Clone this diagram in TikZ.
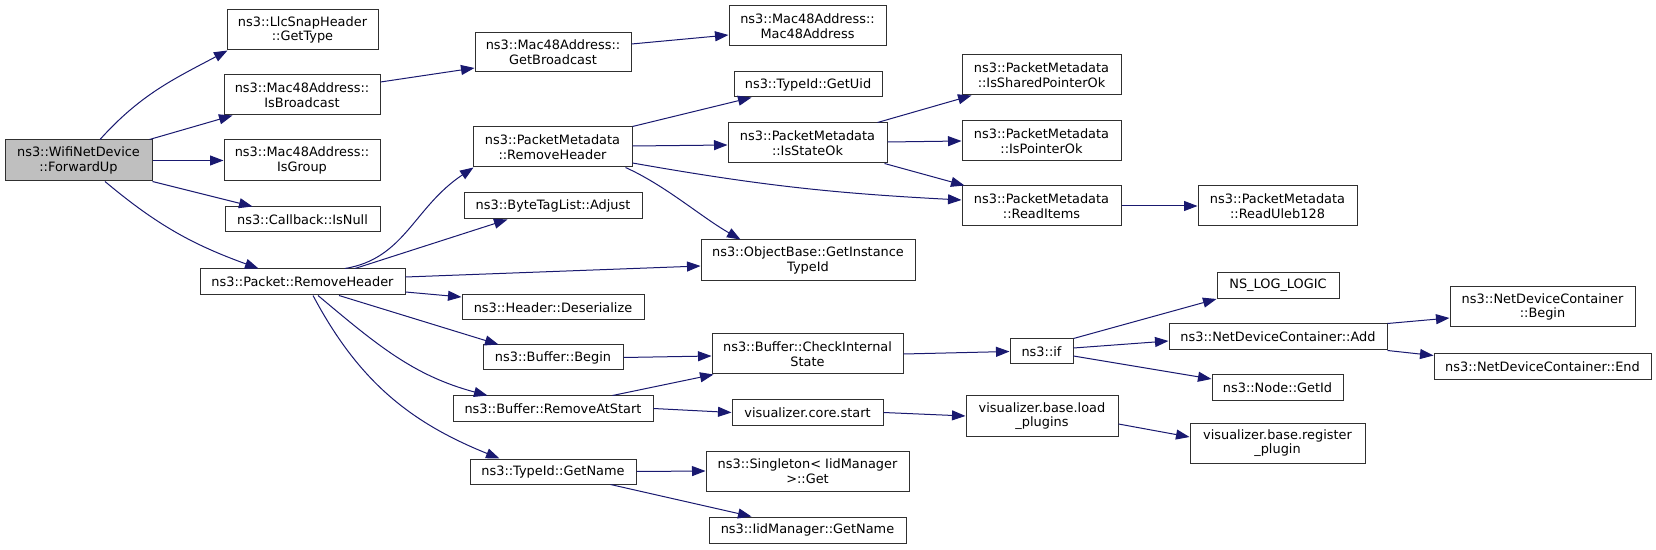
\documentclass[tikz,border=0pt]{standalone}
\usepackage{fontspec}
\setmainfont{DejaVu Sans}
\usetikzlibrary{arrows.meta}
\definecolor{edgeblue}{HTML}{191970}
\definecolor{rootfill}{HTML}{BFBFBF}
\definecolor{boxline}{HTML}{303030}
\begin{document}
\begin{tikzpicture}[x=1pt,y=1pt,
  box/.style={draw=boxline, line width=1pt, fill=white, inner sep=0pt, align=center,
    font=\fontsize{12.9}{14.7}\selectfont},
  rootbox/.style={box, fill=rootfill},
  call/.style={draw=edgeblue, line width=1pt, -{Triangle[length=13.5pt,width=10pt]}}
]
\fill[white] (0,0) rectangle (1656,549);
\useasboundingbox (0,0) rectangle (1656,549);

% rank 0
\node[rootbox, minimum width=147, minimum height=41] (wifi) at (78.5,388.5) {ns3::WifiNetDevice\\::ForwardUp};
% rank 1
\node[box, minimum width=151, minimum height=40] (llc) at (302.5,519) {ns3::LlcSnapHeader\\::GetType};
\node[box, minimum width=156, minimum height=40] (isbc) at (302,454) {ns3::Mac48Address::\\IsBroadcast};
\node[box, minimum width=156, minimum height=41] (isgrp) at (302,388.5) {ns3::Mac48Address::\\IsGroup};
\node[box, minimum width=155, minimum height=25] (isnull) at (302.5,329.5) {ns3::Callback::IsNull};
\node[box, minimum width=205, minimum height=26] (prh) at (302.5,267) {ns3::Packet::RemoveHeader};
% rank 2
\node[box, minimum width=156, minimum height=39] (getbc) at (553,496.5) {ns3::Mac48Address::\\GetBroadcast};
\node[box, minimum width=159, minimum height=40] (pmrh) at (552.5,402) {ns3::PacketMetadata\\::RemoveHeader};
\node[box, minimum width=178, minimum height=26] (btl) at (553,343) {ns3::ByteTagList::Adjust};
\node[box, minimum width=182, minimum height=25] (hdes) at (553,241.5) {ns3::Header::Deserialize};
\node[box, minimum width=140, minimum height=25] (bbeg) at (553,191.5) {ns3::Buffer::Begin};
\node[box, minimum width=200, minimum height=25] (bras) at (553,140.5) {ns3::Buffer::RemoveAtStart};
\node[box, minimum width=166, minimum height=25] (tgn) at (553,77.5) {ns3::TypeId::GetName};
% rank 3
\node[box, minimum width=157, minimum height=40] (mac) at (807.5,523) {ns3::Mac48Address::\\Mac48Address};
\node[box, minimum width=148, minimum height=25] (uid) at (808,464.5) {ns3::TypeId::GetUid};
\node[box, minimum width=159, minimum height=40] (iso) at (807.5,406) {ns3::PacketMetadata\\::IsStateOk};
\node[box, minimum width=214, minimum height=41] (gitid) at (808,288.5) {ns3::ObjectBase::GetInstance\\TypeId};
\node[box, minimum width=191, minimum height=40] (cis) at (807.5,195) {ns3::Buffer::CheckInternal\\State};
\node[box, minimum width=151, minimum height=25] (vcs) at (807.5,136.5) {visualizer.core.start};
\node[box, minimum width=203, minimum height=40] (sgl) at (807.5,78) {ns3::Singleton< IidManager\\>::Get};
\node[box, minimum width=197, minimum height=26] (iidgn) at (807.5,19) {ns3::IidManager::GetName};
% rank 4
\node[box, minimum width=159, minimum height=40] (ispo) at (1041.5,474) {ns3::PacketMetadata\\::IsSharedPointerOk};
\node[box, minimum width=159, minimum height=40] (ipo) at (1041.5,408) {ns3::PacketMetadata\\::IsPointerOk};
\node[box, minimum width=159, minimum height=40] (rit) at (1041.5,343) {ns3::PacketMetadata\\::ReadItems};
\node[box, minimum width=63, minimum height=25] (nsif) at (1041.5,197.5) {ns3::if};
\node[box, minimum width=152, minimum height=40] (lp) at (1042,133) {visualizer.base.load\\\_plugins};
% rank 5
\node[box, minimum width=159, minimum height=40] (ru) at (1277.5,343) {ns3::PacketMetadata\\::ReadUleb128};
\node[box, minimum width=122, minimum height=26] (nslog) at (1278,263.5) {NS\_LOG\_LOGIC};
\node[box, minimum width=218, minimum height=26] (ndcadd) at (1278,212) {ns3::NetDeviceContainer::Add};
\node[box, minimum width=131, minimum height=26] (gid) at (1277.5,161) {ns3::Node::GetId};
\node[box, minimum width=175, minimum height=40] (rp) at (1277.5,106) {visualizer.base.register\\\_plugin};
% rank 6
\node[box, minimum width=185, minimum height=40] (ndcb) at (1542.5,242) {ns3::NetDeviceContainer\\::Begin};
\node[box, minimum width=217, minimum height=26] (ndce) at (1542.5,182.5) {ns3::NetDeviceContainer::End};

% edges
\draw[call] ([xshift=21.5]wifi.north) to[out=48,in=208] ([xshift=1]llc.south west);
\draw[call] ([xshift=-3]wifi.north east) -- ([xshift=9]isbc.south west);
\draw[call] (wifi.east) -- (isgrp.west);
\draw[call] (wifi.south east) -- ([xshift=28]isnull.north west);
\draw[call] ([xshift=26.5]wifi.south) to[out=-40,in=160] ([xshift=59]prh.north west);
\draw[call] ([yshift=13]isbc.east) -- ([yshift=-15.5]getbc.west);
\draw[call] ([yshift=8.5]getbc.east) -- ([yshift=-9]mac.west);
\draw[call] ([xshift=42.5]prh.north) .. controls +(60,10) and +(-60,-40) .. ([xshift=1]pmrh.south west);
\draw[call] ([xshift=52.5]prh.north) -- ([xshift=44]btl.south west);
\draw[call] ([yshift=5]prh.east) -- ([yshift=-5.5]gitid.west);
\draw[call] ([yshift=-10]prh.east) -- ([yshift=10.5]hdes.west);
\draw[call] ([xshift=36.5]prh.south) -- ([xshift=16]bbeg.north west);
\draw[call] ([xshift=15.5]prh.south) to[out=-40,in=165] ([xshift=35]bras.north west);
\draw[call] ([xshift=10.5]prh.south) to[out=-62,in=158] ([xshift=30]tgn.north west);
\draw[call] (pmrh.north east) -- ([xshift=18]uid.south west);
\draw[call] ([yshift=1]pmrh.east) -- ([yshift=-2]iso.west);
\draw[call] ([yshift=-16]pmrh.east) to[out=-10,in=177] ([yshift=6]rit.west);
\draw[call] ([xshift=-7]pmrh.south east) .. controls +(40,-18) and +(-40,23) .. ([xshift=40]gitid.north west);
\draw[call] ([xshift=-10]iso.north east) -- ([xshift=10]ispo.south west);
\draw[call] ([yshift=1]iso.east) -- (ipo.west);
\draw[call] ([xshift=-3]iso.south east) -- ([xshift=3]rit.north west);
\draw[call] (rit.east) -- (ru.west);
\draw[call] (bbeg.east) -- ([yshift=-2]cis.west);
\draw[call] ([xshift=-41]bras.north east) -- ([xshift=2]cis.south west);
\draw[call] (bras.east) -- (vcs.west);
\draw[call] (cis.east) -- (nsif.west);
\draw[call] (nsif.north east) -- (nslog.south west);
\draw[call] ([yshift=3.5]nsif.east) -- ([yshift=-4]ndcadd.west);
\draw[call] ([yshift=-4.5]nsif.east) -- ([yshift=9]gid.west);
\draw[call] (ndcadd.north east) -- ([yshift=-11]ndcb.west);
\draw[call] (ndcadd.south east) -- ([yshift=11]ndce.west);
\draw[call] (vcs.east) -- (lp.west);
\draw[call] ([yshift=-8]lp.east) -- ([yshift=6]rp.west);
\draw[call] (tgn.east) -- (sgl.west);
\draw[call] ([xshift=-26]tgn.south east) -- ([xshift=43]iidgn.north west);
\end{tikzpicture}
\end{document}
